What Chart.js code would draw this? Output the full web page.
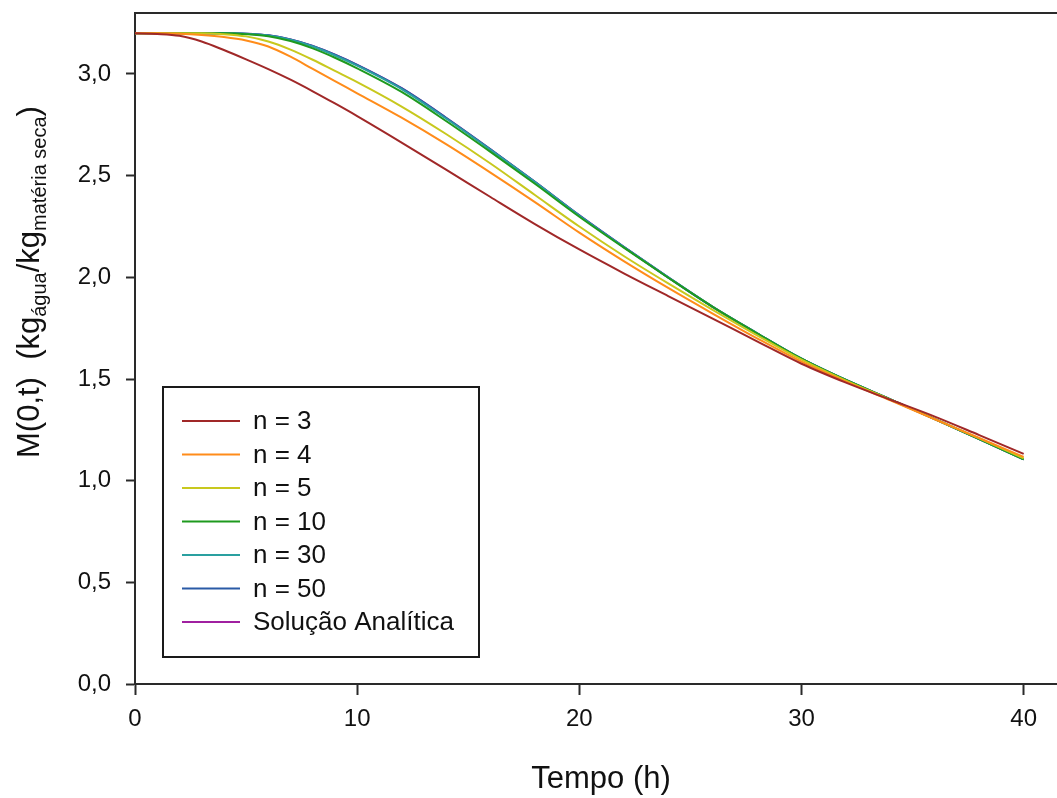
<!DOCTYPE html>
<html><head><meta charset="utf-8">
<script src="https://cdn.jsdelivr.net/npm/chart.js@4.4.1/dist/chart.umd.min.js"></script>
<style>html,body{margin:0;padding:0;background:#fff;}#wrap{width:1057px;height:798px;}</style>
</head><body><div id="wrap"><canvas id="c" width="1057" height="798"></canvas></div>
<script>
// ---- data ----
const times    = [0, 1, 2, 3, 4, 5, 6, 7, 8, 9, 10, 12, 14, 16, 18, 20, 22, 24, 26, 28, 30, 32, 34, 36, 38, 40];
const n3       = [3.20, 3.197, 3.188, 3.16, 3.118, 3.072, 3.024, 2.972, 2.915, 2.855, 2.793, 2.663, 2.53, 2.395, 2.262, 2.137, 2.02, 1.908, 1.797, 1.685, 1.575, 1.482, 1.398, 1.315, 1.224, 1.132];
const n4       = [3.20, 3.20, 3.198, 3.192, 3.182, 3.165, 3.135, 3.085, 3.025, 2.965, 2.905, 2.785, 2.655, 2.515, 2.37, 2.22, 2.08, 1.948, 1.822, 1.70, 1.585, 1.487, 1.395, 1.302, 1.21, 1.117];
const n5       = [3.20, 3.20, 3.20, 3.20, 3.196, 3.185, 3.16, 3.12, 3.07, 3.015, 2.96, 2.84, 2.705, 2.56, 2.405, 2.25, 2.105, 1.97, 1.84, 1.715, 1.595, 1.492, 1.398, 1.303, 1.208, 1.11];
const n10      = [3.20, 3.20, 3.20, 3.20, 3.20, 3.196, 3.186, 3.162, 3.126, 3.08, 3.028, 2.912, 2.769, 2.617, 2.46, 2.298, 2.146, 1.998, 1.855, 1.725, 1.60, 1.495, 1.40, 1.303, 1.205, 1.105];
const n30      = [3.20, 3.20, 3.20, 3.20, 3.20, 3.198, 3.189, 3.168, 3.135, 3.091, 3.041, 2.926, 2.781, 2.627, 2.468, 2.303, 2.149, 2.00, 1.855, 1.725, 1.60, 1.495, 1.40, 1.303, 1.205, 1.105];
const n50      = [3.20, 3.20, 3.20, 3.20, 3.20, 3.198, 3.19, 3.17, 3.138, 3.095, 3.045, 2.93, 2.785, 2.63, 2.47, 2.305, 2.15, 2.00, 1.855, 1.725, 1.60, 1.495, 1.40, 1.303, 1.205, 1.105];
const analytic = [3.20, 3.20, 3.20, 3.20, 3.20, 3.198, 3.19, 3.17, 3.138, 3.095, 3.045, 2.93, 2.785, 2.63, 2.47, 2.305, 2.15, 2.00, 1.855, 1.725, 1.60, 1.495, 1.40, 1.303, 1.205, 1.105];
const seriesLabels = ['n = 3', 'n = 4', 'n = 5', 'n = 10', 'n = 30', 'n = 50', 'Solução Analítica'];
const seriesColors = ['#a02828', '#ff8c1a', '#c8c81e', '#1e9a1e', '#2aa0a0', '#2a5aa6', '#a020a0'];
const xTickValues = [0, 10, 20, 30, 40];
const yTickValues = [0, 0.5, 1.0, 1.5, 2.0, 2.5, 3.0];
const xTitle = 'Tempo (h)';
const yTitleParts = [
  {t: 'M(0,t)  (kg', sub: false},
  {t: 'água', sub: true},
  {t: '/kg', sub: false},
  {t: 'matéria seca', sub: true},
  {t: ')', sub: false}
];

const FONT = '"Liberation Sans", Arial, sans-serif';
const allSeries = [n3, n4, n5, n10, n30, n50, analytic];
const datasets = allSeries.map((s, i) => ({
  label: seriesLabels[i],
  data: times.map((t, j) => ({x: t, y: s[j]})),
  borderColor: seriesColors[i],
  backgroundColor: seriesColors[i],
  borderWidth: 2,
  pointRadius: 0,
  fill: false,
  cubicInterpolationMode: 'monotone'
}));

const framePlugin = {
  id: 'frame',
  afterDraw(chart) {
    const {ctx, chartArea: a} = chart;
    ctx.save();
    // top frame line
    ctx.strokeStyle = '#2a2a2a';
    ctx.lineWidth = 2;
    ctx.beginPath();
    ctx.moveTo(a.left - 1, a.top);
    ctx.lineTo(chart.width, a.top);
    ctx.stroke();

    // legend box
    const bx = 163, by = 387, bw = 316, bh = 270;
    ctx.fillStyle = '#fff';
    ctx.fillRect(bx, by, bw, bh);
    ctx.strokeStyle = '#1a1a1a';
    ctx.lineWidth = 2;
    ctx.strokeRect(bx, by, bw, bh);
    ctx.font = '26px ' + FONT;
    ctx.textBaseline = 'middle';
    ctx.textAlign = 'left';
    chart.data.datasets.forEach((d, i) => {
      const y = 421 + i * 33.5;
      ctx.strokeStyle = d.borderColor;
      ctx.lineWidth = 2;
      ctx.beginPath();
      ctx.moveTo(182, y);
      ctx.lineTo(240, y);
      ctx.stroke();
      ctx.fillStyle = '#111';
      ctx.fillText(d.label, 253, y + 1);
    });

    // x title
    ctx.fillStyle = '#111';
    ctx.font = '31px ' + FONT;
    ctx.textAlign = 'center';
    ctx.textBaseline = 'alphabetic';
    ctx.fillText(xTitle, 601, 788);

    // y title (rotated, with subscripts)
    ctx.translate(39, 458);
    ctx.rotate(-Math.PI / 2);
    ctx.textAlign = 'left';
    let px = 0;
    yTitleParts.forEach(p => {
      ctx.font = (p.sub ? '20px ' : '31px ') + FONT;
      ctx.fillText(p.t, px, p.sub ? 7 : 0);
      px += ctx.measureText(p.t).width;
    });
    ctx.restore();
  }
};

const fmt = v => v.toFixed(1).replace('.', ',');

new Chart(document.getElementById('c'), {
  type: 'line',
  data: {datasets},
  plugins: [framePlugin],
  options: {
    responsive: false,
    devicePixelRatio: 1,
    animation: false,
    layout: {padding: {top: 13, right: 0, left: 0, bottom: 0}},
    plugins: {legend: {display: false}, tooltip: {enabled: false}},
    scales: {
      x: {
        type: 'linear',
        min: 0, max: 41.5,
        afterBuildTicks: s => { s.ticks = xTickValues.map(v => ({value: v})); },
        afterFit: s => { s.height = 114; s.paddingLeft = 0; s.paddingRight = 0; },
        border: {display: true, color: '#2a2a2a', width: 2},
        grid: {display: true, drawOnChartArea: false, drawTicks: true, tickLength: 11, tickColor: '#2a2a2a', tickWidth: 2},
        ticks: {color: '#111', font: {size: 24, family: FONT}, padding: 10, maxRotation: 0, callback: v => String(v)}
      },
      y: {
        type: 'linear',
        min: 0, max: 3.3,
        afterBuildTicks: s => { s.ticks = yTickValues.map(v => ({value: v})); },
        afterFit: s => { s.width = 135; s.paddingTop = 0; s.paddingBottom = 0; },
        border: {display: true, color: '#2a2a2a', width: 2},
        grid: {display: true, drawOnChartArea: false, drawTicks: true, tickLength: 9, tickColor: '#2a2a2a', tickWidth: 2},
        ticks: {color: '#111', font: {size: 24, family: FONT}, padding: 15, callback: v => fmt(v)}
      }
    }
  }
});
</script>
</body></html>
